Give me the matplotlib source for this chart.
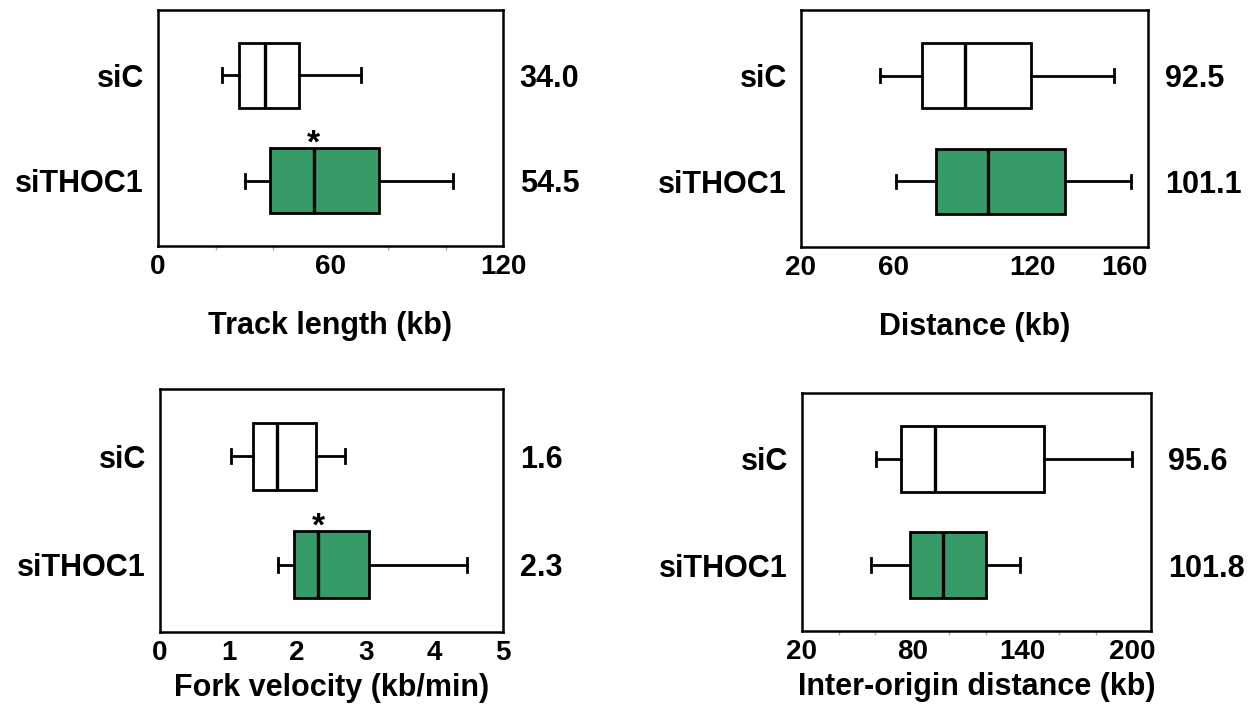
import matplotlib.pyplot as plt
from matplotlib.ticker import MultipleLocator

plt.rcParams["font.family"] = ["Liberation Sans", "DejaVu Sans"]
plt.rcParams["font.weight"] = "bold"
plt.rcParams["axes.labelweight"] = "bold"

groups = ["siC", "siTHOC1"]

# box values: whisker low, q1, median, q3, whisker high
track_sic = [22.3, 28.3, 37.3, 49.0, 70.5]
track_thoc1 = [30.2, 39.0, 54.2, 76.8, 102.6]
track_means = ["34.0", "54.5"]

dist_sic = [54.2, 72.1, 90.9, 119.3, 155.2]
dist_thoc1 = [61.2, 78.3, 100.8, 134.1, 162.8]
dist_means = ["92.5", "101.1"]

fork_sic = [1.03, 1.36, 1.70, 2.28, 2.69]
fork_thoc1 = [1.72, 1.95, 2.31, 3.04, 4.48]
fork_means = ["1.6", "2.3"]

ori_sic = [60.3, 73.7, 92.4, 151.9, 199.7]
ori_thoc1 = [57.5, 78.7, 97.0, 120.4, 138.5]
ori_means = ["95.6", "101.8"]

GREEN = "#379a69"
positions = [2, 1]  # siC on top


def to_stats(label, vals):
    lo, q1, med, q3, hi = vals
    return dict(label=label, whislo=lo, q1=q1, med=med, q3=q3, whishi=hi, fliers=[])


def draw_panel(fig, rect, sic, thoc1, means, xlim, xticks, xlabel, labelpad, star=False, minor=None):
    ax = fig.add_axes(rect)
    stats = [to_stats(groups[0], sic), to_stats(groups[1], thoc1)]
    bp = ax.bxp(stats, positions=positions, orientation="horizontal", widths=0.62,
                capwidths=0.13, patch_artist=True, showfliers=False,
                boxprops=dict(linewidth=2.0, edgecolor="black"),
                whiskerprops=dict(linewidth=2.0, color="black"),
                capprops=dict(linewidth=2.0, color="black"),
                medianprops=dict(linewidth=2.4, color="black"))
    bp["boxes"][0].set_facecolor("white")
    bp["boxes"][1].set_facecolor(GREEN)

    ax.set_ylim(0.38, 2.62)
    ax.set_xlim(*xlim)
    ax.set_xticks(xticks)
    ax.set_xticklabels([str(t) for t in xticks])
    ax.set_yticks(positions, groups)
    ax.tick_params(axis="y", length=0, pad=10, labelsize=22)
    ax.tick_params(axis="x", length=0, pad=6, labelsize=20)
    if minor:
        ax.xaxis.set_minor_locator(MultipleLocator(minor))
        ax.tick_params(axis="x", which="minor", length=3, width=1, color="#aaaaaa")
    for sp in ax.spines.values():
        sp.set_linewidth(1.8)
    ax.set_xlabel(xlabel, fontsize=22, labelpad=labelpad)

    ax2 = ax.twinx()
    ax2.set_ylim(ax.get_ylim())
    ax2.set_yticks(positions, means)
    ax2.tick_params(axis="y", length=0, pad=12, labelsize=22)
    for sp in ax2.spines.values():
        sp.set_visible(False)

    if star:
        ax.text(thoc1[2], 1.27, "*", ha="center", va="baseline", fontsize=24, zorder=5)
    return ax


fig = plt.figure(figsize=(12.5, 7.1), dpi=100)

draw_panel(fig, [0.1264, 0.6535, 0.276, 0.3324], track_sic, track_thoc1, track_means,
           (0, 120), [0, 60, 120], "Track length (kb)", 22, star=True, minor=20)
draw_panel(fig, [0.6408, 0.6521, 0.2776, 0.3338], dist_sic, dist_thoc1, dist_means,
           (20, 170), [20, 60, 120, 160], "Distance (kb)", 22)
draw_panel(fig, [0.128, 0.1099, 0.2744, 0.3423], fork_sic, fork_thoc1, fork_means,
           (0, 5), [0, 1, 2, 3, 4, 5], "Fork velocity (kb/min)", 5, star=True)
draw_panel(fig, [0.6416, 0.1113, 0.2792, 0.3352], ori_sic, ori_thoc1, ori_means,
           (20, 210), [20, 80, 140, 200], "Inter-origin distance (kb)", 5, minor=20)

fig.savefig("out.png", dpi=100)
